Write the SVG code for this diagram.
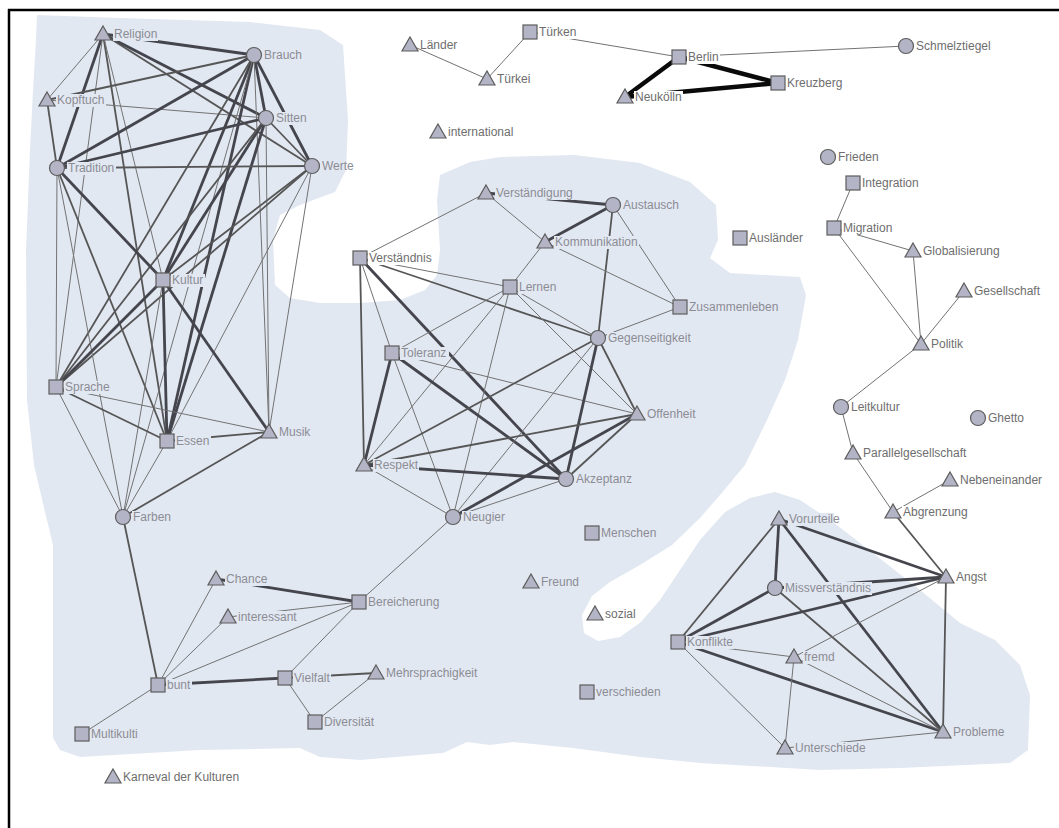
<svg xmlns="http://www.w3.org/2000/svg" xmlns:xlink="http://www.w3.org/1999/xlink" width="1059" height="828" viewBox="0 0 1059 828">
<style>
.t{stroke:#727272;stroke-width:1;fill:none}
.m{stroke:#565656;stroke-width:1.8;fill:none}
.k{stroke:#45454d;stroke-width:2.8;fill:none}
.x{stroke:#0a0a0a;stroke-width:4.5;fill:none}
.nd{fill:#b3b5c7;stroke:#5c5c5c;stroke-width:1.2}
.lb{font-family:"Liberation Sans",Arial,sans-serif;font-size:12px;fill:#8c8c94}
.lo{fill:#6e6e6e}
.bi{fill:#e2e8f2}
.bo{fill:#ffffff}
</style>
<defs>
<rect id="sq" class="nd" x="-7" y="-7" width="14" height="14"/>
<circle id="ci" class="nd" r="7.5"/>
<path id="tr" class="nd" d="M0,-8 L8,6 L-8,6 Z"/>
</defs>
<rect x="0" y="0" width="1059" height="828" fill="#ffffff"/>
<path id="blob" fill="#e2e8f2" d="M37,15 L120,18 L250,22 L320,30 L343,45 L348,120 L346,170 L335,192 L300,205 L280,215 L273,240 L275,285 L290,298 L320,303 L360,303 L400,300 L425,290 L437,275 L440,250 L437,200 L440,175 L470,162 L500,157 L575,155 L640,163 L690,182 L716,205 L718,240 L710,258 L730,273 L800,277 L806,295 L798,340 L785,380 L767,420 L745,465 L720,495 L700,518 L672,545 L640,565 L610,582 L592,596 L582,615 L584,633 L598,641 L620,637 L641,622 L660,600 L680,570 L700,540 L725,512 L750,498 L775,492 L800,500 L833,522 L873,553 L920,590 L960,623 L995,640 L1020,665 L1030,695 L1028,750 L1010,763 L900,768 L820,770 L700,763 L640,757 L573,748 L513,742 L490,745 L467,742 L443,753 L360,760 L320,757 L300,748 L200,750 L80,757 L60,750 L53,738 L53,545 L45,512 L34,465 L27,400 L26,250 L30,150 L33,90 L36,40 Z"/>
<g id="frame" stroke="#000" stroke-width="2.5"><line x1="8" y1="10" x2="1059" y2="10"/><line x1="9" y1="9" x2="9" y2="828"/></g>
<g id="edges">
<line class="k" x1="103" y1="34" x2="254" y2="55"/>
<line class="t" x1="103" y1="34" x2="47" y2="100"/>
<line class="k" x1="103" y1="34" x2="57" y2="168"/>
<line class="k" x1="103" y1="34" x2="266" y2="118"/>
<line class="m" x1="103" y1="34" x2="312" y2="166"/>
<line class="t" x1="103" y1="34" x2="56" y2="387"/>
<line class="m" x1="103" y1="34" x2="167" y2="441"/>
<line class="t" x1="103" y1="34" x2="163" y2="280"/>
<line class="t" x1="47" y1="100" x2="266" y2="118"/>
<line class="m" x1="47" y1="100" x2="57" y2="168"/>
<line class="m" x1="47" y1="100" x2="254" y2="55"/>
<line class="k" x1="254" y1="55" x2="266" y2="118"/>
<line class="k" x1="254" y1="55" x2="312" y2="166"/>
<line class="k" x1="254" y1="55" x2="57" y2="168"/>
<line class="k" x1="254" y1="55" x2="163" y2="280"/>
<line class="k" x1="254" y1="55" x2="167" y2="441"/>
<line class="m" x1="254" y1="55" x2="56" y2="387"/>
<line class="t" x1="254" y1="55" x2="269" y2="432"/>
<line class="t" x1="254" y1="55" x2="123" y2="517"/>
<line class="k" x1="266" y1="118" x2="57" y2="168"/>
<line class="k" x1="266" y1="118" x2="163" y2="280"/>
<line class="k" x1="266" y1="118" x2="167" y2="441"/>
<line class="m" x1="266" y1="118" x2="56" y2="387"/>
<line class="t" x1="266" y1="118" x2="269" y2="432"/>
<line class="m" x1="266" y1="118" x2="312" y2="166"/>
<line class="m" x1="312" y1="166" x2="57" y2="168"/>
<line class="m" x1="312" y1="166" x2="163" y2="280"/>
<line class="m" x1="312" y1="166" x2="56" y2="387"/>
<line class="t" x1="312" y1="166" x2="269" y2="432"/>
<line class="t" x1="312" y1="166" x2="167" y2="441"/>
<line class="t" x1="57" y1="168" x2="56" y2="387"/>
<line class="k" x1="57" y1="168" x2="163" y2="280"/>
<line class="m" x1="57" y1="168" x2="167" y2="441"/>
<line class="t" x1="57" y1="168" x2="123" y2="517"/>
<line class="k" x1="163" y1="280" x2="56" y2="387"/>
<line class="k" x1="163" y1="280" x2="167" y2="441"/>
<line class="k" x1="163" y1="280" x2="269" y2="432"/>
<line class="t" x1="163" y1="280" x2="123" y2="517"/>
<line class="m" x1="56" y1="387" x2="167" y2="441"/>
<line class="t" x1="56" y1="387" x2="123" y2="517"/>
<line class="t" x1="56" y1="387" x2="269" y2="432"/>
<line class="m" x1="167" y1="441" x2="269" y2="432"/>
<line class="t" x1="167" y1="441" x2="123" y2="517"/>
<line class="m" x1="123" y1="517" x2="269" y2="432"/>
<line class="m" x1="123" y1="517" x2="158" y2="685"/>
<line class="k" x1="486" y1="193" x2="613" y2="205"/>
<line class="t" x1="486" y1="193" x2="360" y2="258"/>
<line class="t" x1="486" y1="193" x2="545" y2="242"/>
<line class="k" x1="613" y1="205" x2="545" y2="242"/>
<line class="m" x1="613" y1="205" x2="598" y2="338"/>
<line class="t" x1="613" y1="205" x2="680" y2="307"/>
<line class="t" x1="545" y1="242" x2="510" y2="287"/>
<line class="t" x1="545" y1="242" x2="680" y2="307"/>
<line class="t" x1="360" y1="258" x2="510" y2="287"/>
<line class="m" x1="360" y1="258" x2="598" y2="338"/>
<line class="k" x1="360" y1="258" x2="566" y2="479"/>
<line class="m" x1="360" y1="258" x2="364" y2="465"/>
<line class="t" x1="360" y1="258" x2="392" y2="353"/>
<line class="t" x1="510" y1="287" x2="392" y2="353"/>
<line class="t" x1="510" y1="287" x2="364" y2="465"/>
<line class="t" x1="510" y1="287" x2="453" y2="517"/>
<line class="t" x1="510" y1="287" x2="637" y2="414"/>
<line class="t" x1="510" y1="287" x2="598" y2="338"/>
<line class="k" x1="392" y1="353" x2="364" y2="465"/>
<line class="k" x1="392" y1="353" x2="566" y2="479"/>
<line class="t" x1="392" y1="353" x2="637" y2="414"/>
<line class="t" x1="392" y1="353" x2="453" y2="517"/>
<line class="m" x1="598" y1="338" x2="364" y2="465"/>
<line class="k" x1="598" y1="338" x2="566" y2="479"/>
<line class="m" x1="598" y1="338" x2="637" y2="414"/>
<line class="t" x1="598" y1="338" x2="453" y2="517"/>
<line class="t" x1="598" y1="338" x2="680" y2="307"/>
<line class="m" x1="637" y1="414" x2="364" y2="465"/>
<line class="k" x1="637" y1="414" x2="453" y2="517"/>
<line class="m" x1="637" y1="414" x2="566" y2="479"/>
<line class="k" x1="364" y1="465" x2="566" y2="479"/>
<line class="t" x1="364" y1="465" x2="453" y2="517"/>
<line class="t" x1="453" y1="517" x2="566" y2="479"/>
<line class="t" x1="453" y1="517" x2="359" y2="602"/>
<line class="k" x1="359" y1="602" x2="216" y2="579"/>
<line class="t" x1="359" y1="602" x2="228" y2="617"/>
<line class="t" x1="359" y1="602" x2="158" y2="685"/>
<line class="t" x1="359" y1="602" x2="285" y2="678"/>
<line class="t" x1="158" y1="685" x2="216" y2="579"/>
<line class="t" x1="158" y1="685" x2="228" y2="617"/>
<line class="k" x1="158" y1="685" x2="285" y2="678"/>
<line class="t" x1="158" y1="685" x2="82" y2="734"/>
<line class="m" x1="285" y1="678" x2="376" y2="673"/>
<line class="t" x1="285" y1="678" x2="315" y2="722"/>
<line class="t" x1="315" y1="722" x2="376" y2="673"/>
<line class="t" x1="410" y1="45" x2="487" y2="79"/>
<line class="t" x1="530" y1="32" x2="487" y2="79"/>
<line class="t" x1="530" y1="32" x2="679" y2="57"/>
<line class="t" x1="679" y1="57" x2="906" y2="46"/>
<line class="x" x1="679" y1="57" x2="778" y2="83" stroke-width="5"/>
<line class="x" x1="679" y1="57" x2="625" y2="97"/>
<line class="x" x1="625" y1="97" x2="778" y2="83"/>
<line class="t" x1="853" y1="183" x2="834" y2="228" stroke-width="1.3"/>
<line class="t" x1="834" y1="228" x2="913" y2="251"/>
<line class="t" x1="834" y1="228" x2="921" y2="344"/>
<line class="t" x1="913" y1="251" x2="921" y2="344" stroke-width="1.6"/>
<line class="t" x1="964" y1="291" x2="921" y2="344"/>
<line class="t" x1="921" y1="344" x2="841" y2="407"/>
<line class="t" x1="841" y1="407" x2="853" y2="453" stroke-width="1.3"/>
<line class="t" x1="853" y1="453" x2="893" y2="512" stroke-width="1.3"/>
<line class="m" x1="893" y1="512" x2="946" y2="577" stroke="#222"/>
<line class="t" x1="950" y1="480" x2="893" y2="512"/>
<line class="k" x1="779" y1="519" x2="946" y2="577"/>
<line class="k" x1="779" y1="519" x2="775" y2="588"/>
<line class="m" x1="779" y1="519" x2="678" y2="642"/>
<line class="k" x1="779" y1="519" x2="943" y2="732"/>
<line class="k" x1="775" y1="588" x2="946" y2="577"/>
<line class="k" x1="775" y1="588" x2="678" y2="642"/>
<line class="m" x1="775" y1="588" x2="943" y2="732"/>
<line class="k" x1="678" y1="642" x2="946" y2="577"/>
<line class="t" x1="678" y1="642" x2="794" y2="657" stroke-width="1.3"/>
<line class="k" x1="678" y1="642" x2="943" y2="732"/>
<line class="t" x1="678" y1="642" x2="785" y2="748"/>
<line class="t" x1="794" y1="657" x2="946" y2="577"/>
<line class="t" x1="794" y1="657" x2="785" y2="748" stroke-width="1.4"/>
<line class="t" x1="794" y1="657" x2="943" y2="732"/>
<line class="t" x1="785" y1="748" x2="943" y2="732" stroke-width="1.3"/>
<line class="m" x1="946" y1="577" x2="943" y2="732"/>
</g>
<g id="nodes">
<g id="n-religion"><rect class="bi" x="113" y="28" width="45" height="13"/><use xlink:href="#tr" x="103" y="34"/><text class="lb" x="114" y="38">Religion</text></g>
<g id="n-brauch"><rect class="bi" x="263" y="49" width="40" height="13"/><use xlink:href="#ci" x="254" y="55"/><text class="lb" x="264" y="59">Brauch</text></g>
<g id="n-kopftuch"><rect class="bi" x="56" y="94" width="50" height="13"/><use xlink:href="#tr" x="47" y="100"/><text class="lb" x="57" y="104">Kopftuch</text></g>
<g id="n-sitten"><rect class="bi" x="275" y="112" width="33" height="13"/><use xlink:href="#ci" x="266" y="118"/><text class="lb" x="276" y="122">Sitten</text></g>
<g id="n-tradition"><rect class="bi" x="67" y="162" width="49" height="13"/><use xlink:href="#ci" x="57" y="168"/><text class="lb" x="68" y="172">Tradition</text></g>
<g id="n-werte"><use xlink:href="#ci" x="312" y="166"/><text class="lb" x="322" y="170">Werte</text></g>
<g id="n-kultur"><rect class="bi" x="171" y="274" width="34" height="13"/><use xlink:href="#sq" x="163" y="280"/><text class="lb" x="172" y="284">Kultur</text></g>
<g id="n-sprache"><rect class="bi" x="64" y="381" width="47" height="13"/><use xlink:href="#sq" x="56" y="387"/><text class="lb" x="65" y="391">Sprache</text></g>
<g id="n-essen"><rect class="bi" x="175" y="435" width="36" height="13"/><use xlink:href="#sq" x="167" y="441"/><text class="lb" x="176" y="445">Essen</text></g>
<g id="n-musik"><rect class="bi" x="278" y="426" width="34" height="13"/><use xlink:href="#tr" x="269" y="432"/><text class="lb" x="279" y="436">Musik</text></g>
<g id="n-farben"><rect class="bi" x="132" y="511" width="40" height="13"/><use xlink:href="#ci" x="123" y="517"/><text class="lb" x="133" y="521">Farben</text></g>
<g id="n-chance"><rect class="bi" x="225" y="573" width="44" height="13"/><use xlink:href="#tr" x="216" y="579"/><text class="lb" x="226" y="583">Chance</text></g>
<g id="n-interessant"><rect class="bi" x="237" y="611" width="61" height="13"/><use xlink:href="#tr" x="228" y="617"/><text class="lb" x="238" y="621">interessant</text></g>
<g id="n-bereicherung"><rect class="bi" x="367" y="596" width="73" height="13"/><use xlink:href="#sq" x="359" y="602"/><text class="lb" x="368" y="606">Bereicherung</text></g>
<g id="n-bunt"><rect class="bi" x="166" y="679" width="26" height="13"/><use xlink:href="#sq" x="158" y="685"/><text class="lb" x="167" y="689">bunt</text></g>
<g id="n-vielfalt"><rect class="bi" x="293" y="672" width="38" height="13"/><use xlink:href="#sq" x="285" y="678"/><text class="lb" x="294" y="682">Vielfalt</text></g>
<g id="n-mehrsprachigkeit"><rect class="bi" x="385" y="667" width="93" height="13"/><use xlink:href="#tr" x="376" y="673"/><text class="lb" x="386" y="677">Mehrsprachigkeit</text></g>
<g id="n-diversitaet"><rect class="bi" x="323" y="716" width="52" height="13"/><use xlink:href="#sq" x="315" y="722"/><text class="lb" x="324" y="726">Diversität</text></g>
<g id="n-multikulti"><use xlink:href="#sq" x="82" y="734"/><text class="lb" x="91" y="738">Multikulti</text></g>
<g id="n-karneval"><use xlink:href="#tr" x="113" y="777"/><text class="lb lo" x="123" y="781">Karneval der Kulturen</text></g>
<g id="n-verstaendigung"><rect class="bi" x="495" y="187" width="79" height="13"/><use xlink:href="#tr" x="486" y="193"/><text class="lb" x="496" y="197">Verständigung</text></g>
<g id="n-austausch"><rect class="bi" x="622" y="199" width="58" height="13"/><use xlink:href="#ci" x="613" y="205"/><text class="lb" x="623" y="209">Austausch</text></g>
<g id="n-kommunikation"><rect class="bi" x="554" y="236" width="85" height="13"/><use xlink:href="#tr" x="545" y="242"/><text class="lb" x="555" y="246">Kommunikation</text></g>
<g id="n-verstaendnis"><rect class="bo" x="368" y="252" width="65" height="13"/><use xlink:href="#sq" x="360" y="258"/><text class="lb lo" x="369" y="262">Verständnis</text></g>
<g id="n-lernen"><rect class="bi" x="518" y="281" width="39" height="13"/><use xlink:href="#sq" x="510" y="287"/><text class="lb" x="519" y="291">Lernen</text></g>
<g id="n-zusammenleben"><rect class="bi" x="688" y="301" width="91" height="13"/><use xlink:href="#sq" x="680" y="307"/><text class="lb" x="689" y="311">Zusammenleben</text></g>
<g id="n-gegenseitigkeit"><rect class="bi" x="607" y="332" width="90" height="13"/><use xlink:href="#ci" x="598" y="338"/><text class="lb" x="608" y="342">Gegenseitigkeit</text></g>
<g id="n-toleranz"><rect class="bi" x="400" y="347" width="49" height="13"/><use xlink:href="#sq" x="392" y="353"/><text class="lb" x="401" y="357">Toleranz</text></g>
<g id="n-offenheit"><rect class="bi" x="646" y="408" width="51" height="13"/><use xlink:href="#tr" x="637" y="414"/><text class="lb" x="647" y="418">Offenheit</text></g>
<g id="n-respekt"><rect class="bi" x="373" y="459" width="46" height="13"/><use xlink:href="#tr" x="364" y="465"/><text class="lb" x="374" y="469">Respekt</text></g>
<g id="n-akzeptanz"><rect class="bi" x="575" y="473" width="58" height="13"/><use xlink:href="#ci" x="566" y="479"/><text class="lb" x="576" y="483">Akzeptanz</text></g>
<g id="n-neugier"><rect class="bi" x="462" y="511" width="44" height="13"/><use xlink:href="#ci" x="453" y="517"/><text class="lb" x="463" y="521">Neugier</text></g>
<g id="n-menschen"><use xlink:href="#sq" x="592" y="533"/><text class="lb" x="601" y="537">Menschen</text></g>
<g id="n-freund"><use xlink:href="#tr" x="531" y="582"/><text class="lb" x="541" y="586">Freund</text></g>
<g id="n-sozial"><use xlink:href="#tr" x="595" y="614"/><text class="lb lo" x="605" y="618">sozial</text></g>
<g id="n-verschieden"><use xlink:href="#sq" x="587" y="692"/><text class="lb" x="596" y="696">verschieden</text></g>
<g id="n-laender"><use xlink:href="#tr" x="410" y="45"/><text class="lb lo" x="420" y="49">Länder</text></g>
<g id="n-tuerken"><rect class="bo" x="538" y="26" width="39" height="13"/><use xlink:href="#sq" x="530" y="32"/><text class="lb lo" x="539" y="36">Türken</text></g>
<g id="n-tuerkei"><rect class="bo" x="496" y="73" width="35" height="13"/><use xlink:href="#tr" x="487" y="79"/><text class="lb lo" x="497" y="83">Türkei</text></g>
<g id="n-international"><use xlink:href="#tr" x="438" y="132"/><text class="lb lo" x="448" y="136">international</text></g>
<g id="n-berlin"><rect class="bo" x="687" y="51" width="33" height="13"/><use xlink:href="#sq" x="679" y="57"/><text class="lb lo" x="688" y="61">Berlin</text></g>
<g id="n-neukoelln"><rect class="bo" x="634" y="91" width="49" height="13"/><use xlink:href="#tr" x="625" y="97"/><text class="lb lo" x="635" y="101">Neukölln</text></g>
<g id="n-kreuzberg"><use xlink:href="#sq" x="778" y="83"/><text class="lb lo" x="787" y="87">Kreuzberg</text></g>
<g id="n-schmelztiegel"><use xlink:href="#ci" x="906" y="46"/><text class="lb lo" x="916" y="50">Schmelztiegel</text></g>
<g id="n-frieden"><use xlink:href="#ci" x="828" y="157"/><text class="lb lo" x="838" y="161">Frieden</text></g>
<g id="n-integration"><use xlink:href="#sq" x="853" y="183"/><text class="lb lo" x="862" y="187">Integration</text></g>
<g id="n-migration"><rect class="bo" x="842" y="222" width="50" height="13"/><use xlink:href="#sq" x="834" y="228"/><text class="lb lo" x="843" y="232">Migration</text></g>
<g id="n-auslaender"><use xlink:href="#sq" x="740" y="238"/><text class="lb lo" x="749" y="242">Ausländer</text></g>
<g id="n-globalisierung"><use xlink:href="#tr" x="913" y="251"/><text class="lb lo" x="923" y="255">Globalisierung</text></g>
<g id="n-gesellschaft"><use xlink:href="#tr" x="964" y="291"/><text class="lb lo" x="974" y="295">Gesellschaft</text></g>
<g id="n-politik"><use xlink:href="#tr" x="921" y="344"/><text class="lb lo" x="931" y="348">Politik</text></g>
<g id="n-leitkultur"><use xlink:href="#ci" x="841" y="407"/><text class="lb lo" x="851" y="411">Leitkultur</text></g>
<g id="n-ghetto"><use xlink:href="#ci" x="978" y="418"/><text class="lb lo" x="988" y="422">Ghetto</text></g>
<g id="n-parallelgesellschaft"><use xlink:href="#tr" x="853" y="453"/><text class="lb lo" x="863" y="457">Parallelgesellschaft</text></g>
<g id="n-nebeneinander"><use xlink:href="#tr" x="950" y="480"/><text class="lb lo" x="960" y="484">Nebeneinander</text></g>
<g id="n-abgrenzung"><rect class="bo" x="902" y="506" width="66" height="13"/><use xlink:href="#tr" x="893" y="512"/><text class="lb lo" x="903" y="516">Abgrenzung</text></g>
<g id="n-vorurteile"><rect class="bi" x="788" y="513" width="46" height="13"/><use xlink:href="#tr" x="779" y="519"/><text class="lb" x="789" y="523">Vorurteile</text></g>
<g id="n-angst"><use xlink:href="#tr" x="946" y="577"/><text class="lb lo" x="956" y="581">Angst</text></g>
<g id="n-missverstaendnis"><rect class="bi" x="784" y="582" width="88" height="13"/><use xlink:href="#ci" x="775" y="588"/><text class="lb" x="785" y="592">Missverständnis</text></g>
<g id="n-konflikte"><rect class="bi" x="686" y="636" width="48" height="13"/><use xlink:href="#sq" x="678" y="642"/><text class="lb" x="687" y="646">Konflikte</text></g>
<g id="n-fremd"><rect class="bi" x="803" y="651" width="33" height="13"/><use xlink:href="#tr" x="794" y="657"/><text class="lb" x="804" y="661">fremd</text></g>
<g id="n-probleme"><rect class="bi" x="952" y="726" width="53" height="13"/><use xlink:href="#tr" x="943" y="732"/><text class="lb" x="953" y="736">Probleme</text></g>
<g id="n-unterschiede"><rect class="bi" x="794" y="742" width="71" height="13"/><use xlink:href="#tr" x="785" y="748"/><text class="lb" x="795" y="752">Unterschiede</text></g>
</g>
</svg>
